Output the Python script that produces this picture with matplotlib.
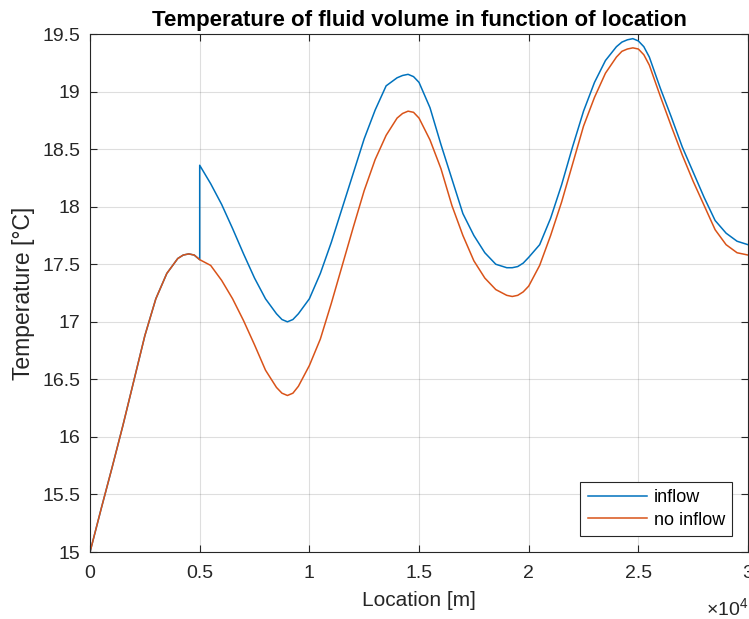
import numpy as np
import matplotlib.pyplot as plt
from matplotlib.ticker import FuncFormatter

plt.rcParams['font.family'] = ['Liberation Sans', 'DejaVu Sans']
plt.rcParams['mathtext.fontset'] = 'custom'
plt.rcParams['mathtext.rm'] = 'Liberation Sans'

# values (location in m, temperature in degC)
loc_noinflow = [0, 500, 1000, 1500, 2000, 2500, 3000, 3500, 4000, 4250, 4500, 4750,
                5000, 5500, 6000, 6500, 7000, 7500, 8000, 8500, 8750, 9000, 9250, 9500,
                10000, 10500, 11000, 11500, 12000, 12500, 13000, 13500, 14000, 14250, 14500, 14750,
                15000, 15500, 16000, 16500, 17000, 17500, 18000, 18500, 19000, 19250, 19500, 19750,
                20000, 20500, 21000, 21500, 22000, 22500, 23000, 23500, 24000, 24250, 24500, 24750,
                25000, 25250, 25500, 26000, 26500, 27000, 27500, 28000, 28500, 29000, 29500,
                30000]
temp_noinflow = [15.0, 15.37, 15.73, 16.1, 16.49, 16.88, 17.2, 17.42, 17.55, 17.58, 17.59, 17.58,
                 17.54, 17.49, 17.36, 17.2, 17.01, 16.8, 16.58, 16.43, 16.38, 16.36, 16.38, 16.44,
                 16.62, 16.85, 17.16, 17.49, 17.82, 18.14, 18.41, 18.62, 18.77, 18.81, 18.83, 18.82,
                 18.77, 18.58, 18.33, 18.01, 17.75, 17.53, 17.38, 17.28, 17.23, 17.22, 17.23, 17.26,
                 17.31, 17.49, 17.75, 18.04, 18.37, 18.7, 18.95, 19.16, 19.3, 19.35, 19.37, 19.38,
                 19.37, 19.32, 19.23, 18.96, 18.7, 18.45, 18.22, 18.01, 17.8, 17.67, 17.6,
                 17.58]

# inflow enters at 5000 m -> jump in temperature
loc_inflow = [0, 500, 1000, 1500, 2000, 2500, 3000, 3500, 4000, 4250, 4500, 4750,
              5000, 5000, 5500, 6000, 6500, 7000, 7500, 8000, 8500, 8750, 9000, 9250, 9500,
              10000, 10500, 11000, 11500, 12000, 12500, 13000, 13500, 14000, 14250, 14500, 14750,
              15000, 15500, 16000, 16500, 17000, 17500, 18000, 18500, 19000, 19250, 19500, 19750,
              20000, 20500, 21000, 21500, 22000, 22500, 23000, 23500, 24000, 24250, 24500, 24750,
              25000, 25250, 25500, 26000, 26500, 27000, 27500, 28000, 28500, 29000, 29500,
              30000]
temp_inflow = [15.0, 15.37, 15.73, 16.1, 16.49, 16.88, 17.2, 17.42, 17.55, 17.58, 17.59, 17.58,
               17.54, 18.36, 18.2, 18.02, 17.81, 17.59, 17.38, 17.2, 17.07, 17.02, 17.0, 17.02, 17.07,
               17.2, 17.42, 17.69, 17.99, 18.29, 18.59, 18.84, 19.05, 19.12, 19.14, 19.15, 19.13,
               19.08, 18.86, 18.54, 18.24, 17.94, 17.75, 17.6, 17.5, 17.47, 17.47, 17.48, 17.51,
               17.56, 17.67, 17.9, 18.19, 18.52, 18.83, 19.08, 19.27, 19.39, 19.43, 19.45, 19.46,
               19.44, 19.39, 19.3, 19.03, 18.78, 18.52, 18.3, 18.08, 17.88, 17.77, 17.7,
               17.67]

fig = plt.figure(figsize=(7.49, 6.19), dpi=100)
ax = fig.add_axes([0.1202, 0.1082, 0.8785, 0.8368])

ax.plot(loc_inflow, temp_inflow, color='#0072BD', lw=1.1, label='inflow')
ax.plot(loc_noinflow, temp_noinflow, color='#D95319', lw=1.1, label='no inflow')

ax.set_xlim(0, 30000)
ax.set_ylim(15, 19.5)
ax.set_xticks(np.arange(0, 30001, 5000))
ax.set_yticks(np.arange(15, 19.51, 0.5))
ax.xaxis.set_major_formatter(FuncFormatter(lambda v, p: f"{v / 1e4:g}"))
ax.yaxis.set_major_formatter(FuncFormatter(lambda v, p: f"{v:g}"))

ax.grid(True, color='#262626', alpha=0.15, lw=0.8)
ax.tick_params(direction='in', length=5, width=0.8, colors='#262626',
               labelsize=14, top=True, right=True)
ax.tick_params(axis='x', pad=9)
ax.tick_params(axis='y', pad=7)
for s in ax.spines.values():
    s.set_color('#262626')
    s.set_linewidth(0.8)

ax.set_title('Temperature of fluid volume in function of location',
             fontsize=16, fontweight='bold', pad=6)
ax.set_xlabel('Location [m]', fontsize=15, color='#262626')
ax.set_ylabel('Temperature [°C]', fontsize=16.5, color='#262626')
ax.xaxis.set_label_coords(0.5, -0.075)
ax.yaxis.set_label_coords(-0.084, 0.5)
ax.text(1.0, -0.108, r'$\times\mathregular{10^{4}}$', transform=ax.transAxes,
        ha='right', va='center', fontsize=14, color='#262626')

leg = ax.legend(loc='lower right', bbox_to_anchor=(0.9757, 0.0309), borderaxespad=0,
                fontsize=13, fancybox=False, framealpha=1, edgecolor='#262626',
                handlelength=3.3, labelspacing=0.3, borderpad=0.4, handletextpad=0.35)
leg.get_frame().set_linewidth(0.8)

fig.savefig('out.png', dpi=100)
